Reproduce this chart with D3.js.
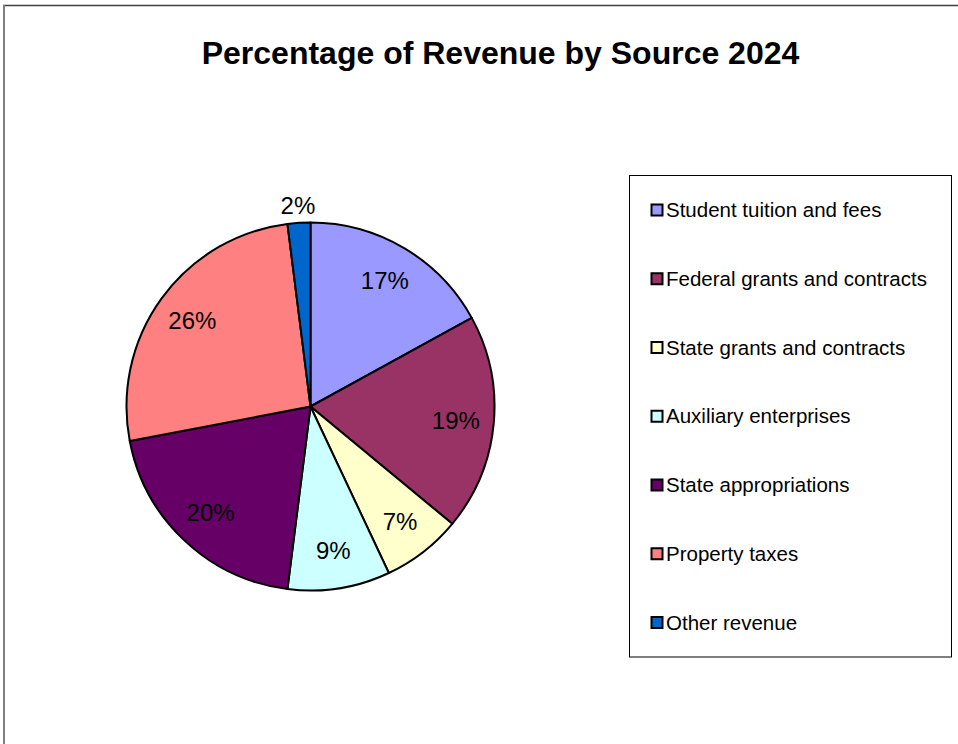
<!DOCTYPE html>
<html>
<head>
<meta charset="utf-8">
<script src="https://cdn.jsdelivr.net/npm/d3@7"></script>
<style>
  html, body { margin: 0; padding: 0; background: #fff; }
  svg { display: block; font-family: Arial, "Liberation Sans", sans-serif; }
</style>
</head>
<body>
<svg id="chart" width="958" height="744"></svg>
<script>
// Revenue sources and their share of 2024 revenue (percent)
const categories = [
  "Student tuition and fees",
  "Federal grants and contracts",
  "State grants and contracts",
  "Auxiliary enterprises",
  "State appropriations",
  "Property taxes",
  "Other revenue"
];
const shares = [17, 19, 7, 9, 20, 26, 2];
const sliceColors = ["#9999FF", "#993366", "#FFFFCC", "#CCFFFF", "#660066", "#FF8080", "#0066CC"];
const chartTitle = "Percentage of Revenue by Source 2024";

const data = categories.map((c, i) => ({ category: c, value: shares[i] }));

const svg = d3.select("#chart");

// Outer chart frame
svg.append("line").attr("x1", 3).attr("x2", 958).attr("y1", 5.5).attr("y2", 5.5)
  .attr("stroke", "#404040").attr("stroke-width", 1.5);
svg.append("line").attr("x1", 4).attr("x2", 4).attr("y1", 5).attr("y2", 744)
  .attr("stroke", "#808080").attr("stroke-width", 2);

// Title
svg.append("text")
  .attr("x", 500.5).attr("y", 63.5)
  .attr("text-anchor", "middle")
  .attr("font-size", 32).attr("font-weight", "bold")
  .attr("fill", "#000")
  .text(chartTitle);

// Pie
const cx = 310.5, cy = 406.5, R = 184;
const color = d3.scaleOrdinal().domain(categories).range(sliceColors);
const pie = d3.pie().value(d => d.value).sort(null);
const arcs = pie(data);
const arc = d3.arc().innerRadius(0).outerRadius(R);
const labelArc = d3.arc().innerRadius(146).outerRadius(146);
const outerLabelArc = d3.arc().innerRadius(201).outerRadius(201);

const g = svg.append("g").attr("transform", `translate(${cx},${cy})`);
g.selectAll("path.slice")
  .data(arcs)
  .join("path")
  .attr("class", "slice")
  .attr("d", arc)
  .attr("fill", d => color(d.data.category))
  .attr("stroke", "#000")
  .attr("stroke-width", 2)
  .attr("stroke-linejoin", "round");

g.selectAll("text.pct")
  .data(arcs)
  .join("text")
  .attr("class", "pct")
  .attr("transform", d => `translate(${(d.data.value < 5 ? outerLabelArc : labelArc).centroid(d)})`)
  .attr("text-anchor", "middle")
  .attr("dy", "0.35em")
  .attr("font-size", 24)
  .attr("fill", "#000")
  .text(d => d3.format(".0f")(d.data.value) + "%");

// Legend
const legend = svg.append("g");
legend.append("rect")
  .attr("x", 629.5).attr("y", 175.5).attr("width", 322).attr("height", 481.5)
  .attr("fill", "#fff").attr("stroke", "#000").attr("stroke-width", 1);

const rowY = d3.scalePoint().domain(categories).range([210, 622.5]);
const rows = legend.selectAll("g.row")
  .data(categories)
  .join("g")
  .attr("class", "row")
  .attr("transform", d => `translate(0,${rowY(d)})`);
rows.append("rect")
  .attr("x", 651.5).attr("y", -5.5).attr("width", 11).attr("height", 11)
  .attr("fill", d => color(d))
  .attr("stroke", "#000").attr("stroke-width", 2);
rows.append("text")
  .attr("x", 666).attr("y", 7)
  .attr("font-size", 20.5)
  .attr("fill", "#000")
  .text(d => d);
</script>
</body>
</html>
